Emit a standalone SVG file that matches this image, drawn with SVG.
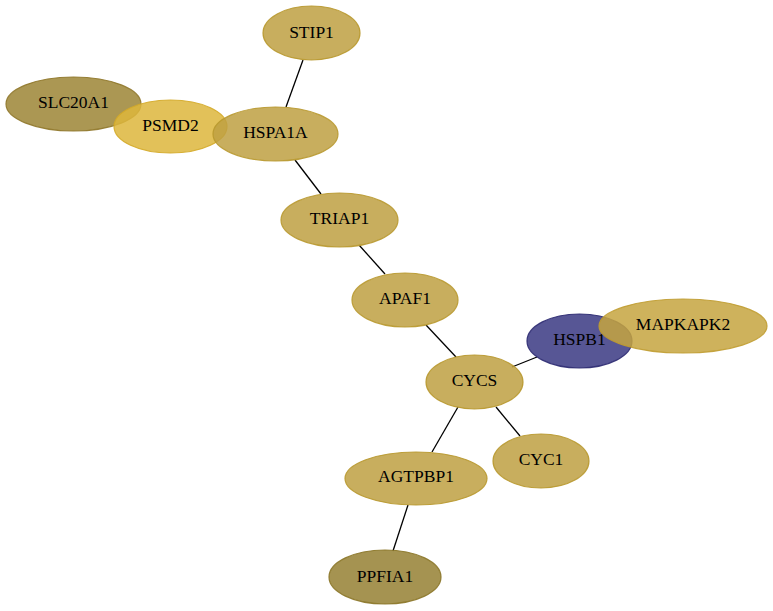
<svg xmlns="http://www.w3.org/2000/svg" width="773" height="611" viewBox="0 0 773 611">
<style>
.n ellipse{stroke-width:1.2;fill-opacity:0.85;stroke-opacity:0.9}
.n text{font-family:"Liberation Serif","Times New Roman",serif;font-size:17.5px;fill:#000;text-anchor:middle;dominant-baseline:central}
.e line{stroke:#000;stroke-width:1.3}
.g ellipse{fill:#bea042;stroke:#b8982e}
</style>
<rect width="773" height="611" fill="#fff"/>
<g id="edges" class="e">
<line x1="303" y1="60" x2="286" y2="107"/>
<line x1="295" y1="160" x2="321" y2="194"/>
<line x1="359" y1="245" x2="385" y2="274"/>
<line x1="426" y1="325" x2="456" y2="357"/>
<line x1="512" y1="367" x2="537" y2="357"/>
<line x1="496" y1="407" x2="520" y2="436"/>
<line x1="458" y1="407" x2="432" y2="452"/>
<line x1="408" y1="505" x2="393" y2="551"/>
</g>
<g id="STIP1" class="n g"><ellipse cx="311.5" cy="33" rx="48.5" ry="27"/><text x="311.5" y="32">STIP1</text></g>
<g id="SLC20A1" class="n"><ellipse cx="73.5" cy="104" rx="67.5" ry="27" fill="#9c8535" stroke="#8e7628"/><text x="73.5" y="102">SLC20A1</text></g>
<g id="PSMD2" class="n"><ellipse cx="170.5" cy="126.5" rx="56.5" ry="26.5" fill="#ddb63c" stroke="#d4aa28"/><text x="170.5" y="125">PSMD2</text></g>
<g id="HSPA1A" class="n g"><ellipse cx="275.5" cy="134" rx="62.5" ry="27"/><text x="275.5" y="132">HSPA1A</text></g>
<g id="TRIAP1" class="n g"><ellipse cx="339.5" cy="220" rx="58.5" ry="27"/><text x="339.5" y="218">TRIAP1</text></g>
<g id="APAF1" class="n g"><ellipse cx="405" cy="300" rx="53" ry="27"/><text x="405" y="298">APAF1</text></g>
<g id="CYCS" class="n g"><ellipse cx="474.5" cy="382" rx="48.5" ry="27"/><text x="474.5" y="380">CYCS</text></g>
<g id="HSPB1" class="n"><ellipse cx="579.5" cy="341" rx="52.5" ry="27" fill="#3a3882" stroke="#2a2870"/><text x="579.5" y="339">HSPB1</text></g>
<g id="MAPKAPK2" class="n"><ellipse cx="683" cy="326" rx="84" ry="27" fill="#c6a440" stroke="#c09c30"/><text x="683" y="324">MAPKAPK2</text></g>
<g id="CYC1" class="n g"><ellipse cx="541" cy="461" rx="48" ry="27"/><text x="541" y="459">CYC1</text></g>
<g id="AGTPBP1" class="n g"><ellipse cx="416" cy="478.5" rx="71" ry="26.5"/><text x="416" y="476">AGTPBP1</text></g>
<g id="PPFIA1" class="n"><ellipse cx="385" cy="577" rx="56" ry="27" fill="#958033" stroke="#8a7426"/><text x="385" y="576">PPFIA1</text></g>
</svg>
